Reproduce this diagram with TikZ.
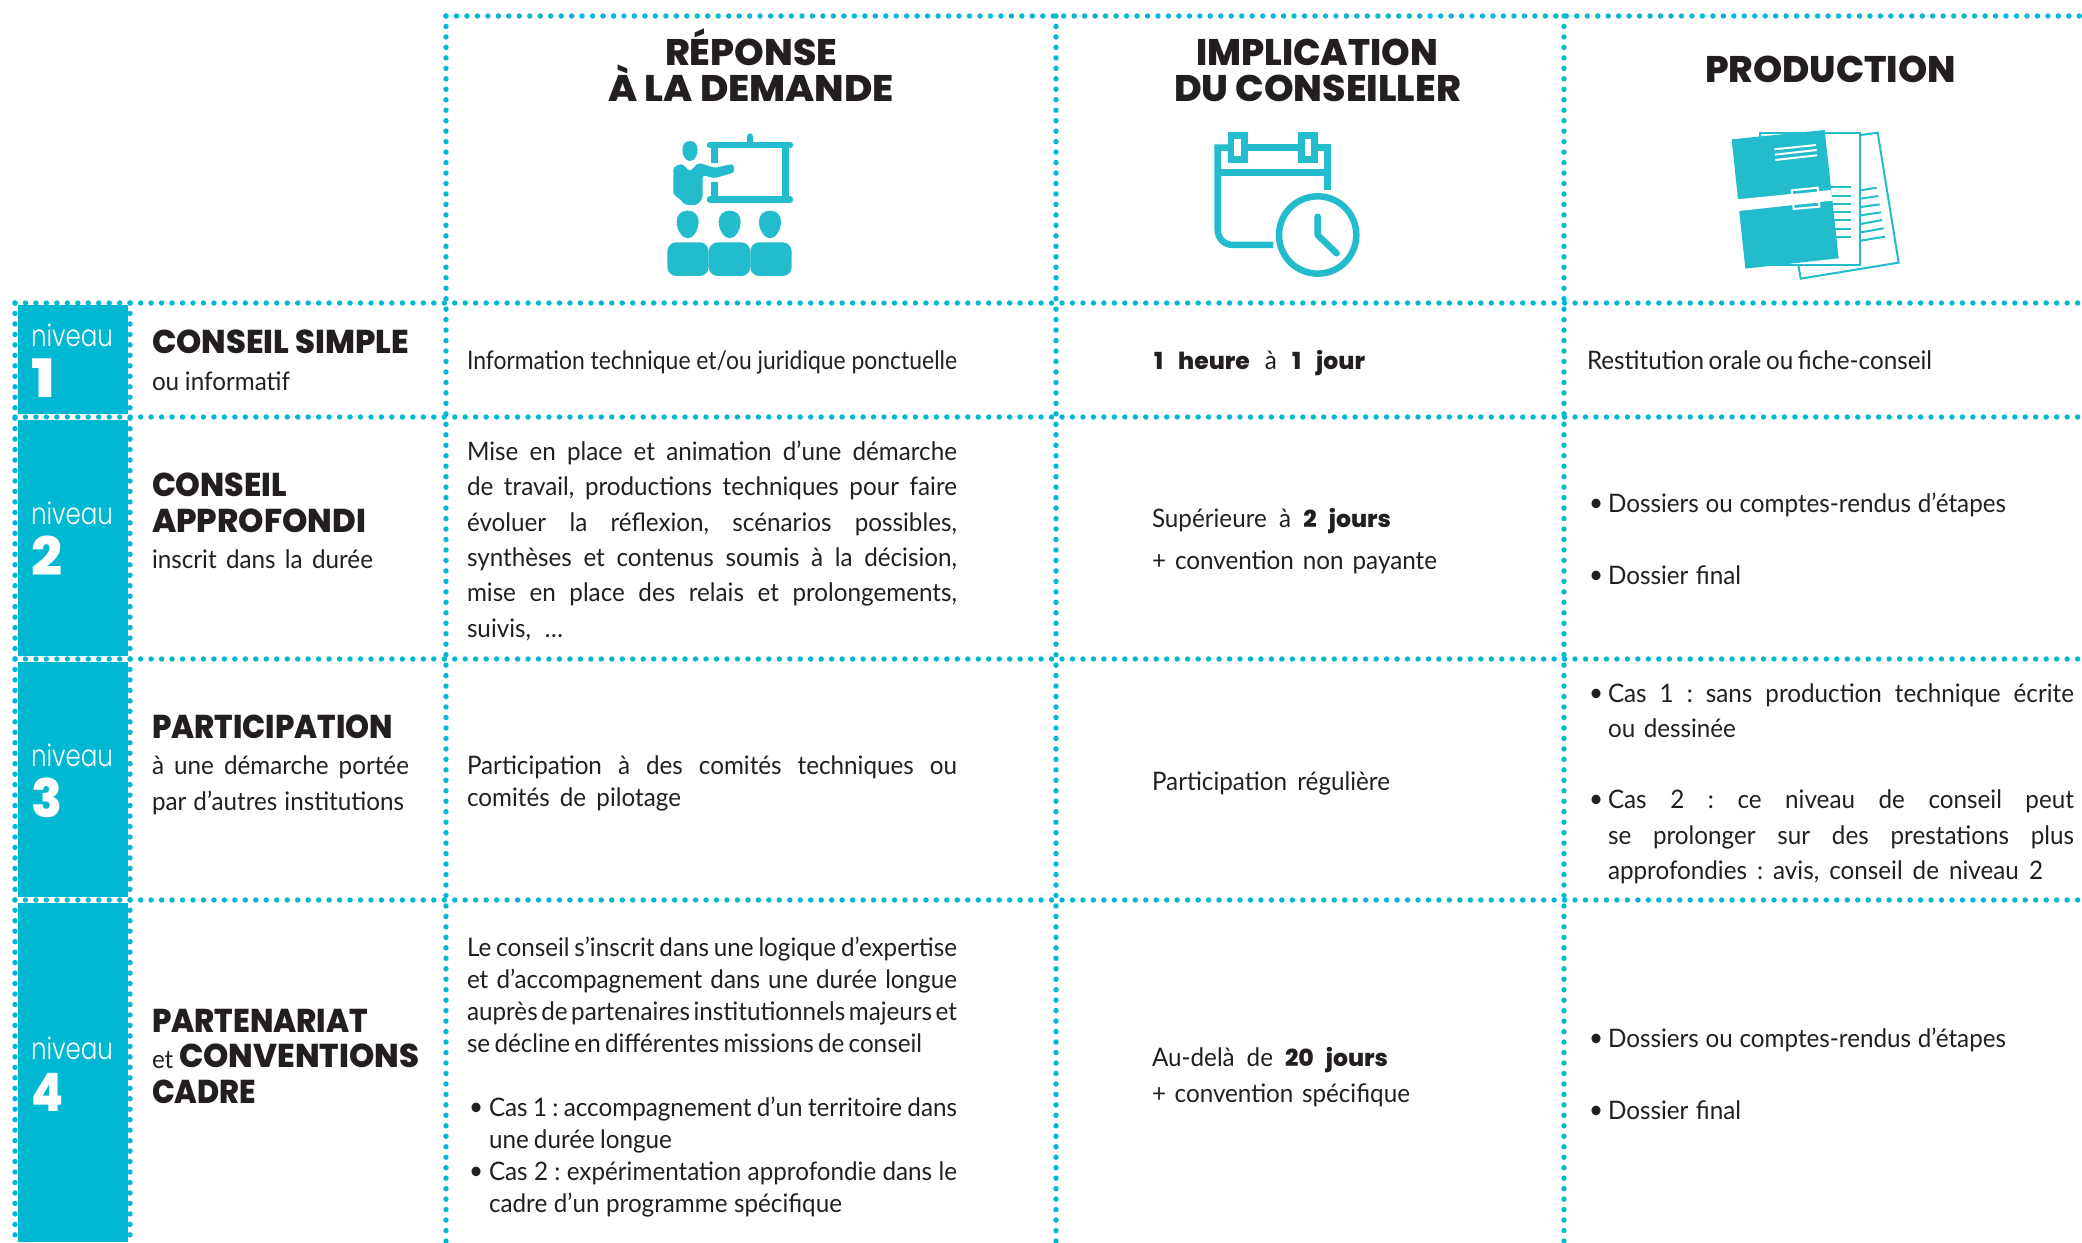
\documentclass[tikz,border=0pt]{standalone}
\usepackage{fontspec}
\usepackage{graphicx}
\newfontfamily\bdf[FakeStretch=0.95]{Lato}
\newfontfamily\hvf{Poppins ExtraBold}
\newfontfamily\nvf{Poppins Light}
\newfontfamily\hvs{Poppins ExtraBold}
\definecolor{dotc}{HTML}{00B8D4}
\definecolor{blockc}{HTML}{00B8D1}
\definecolor{iconc}{HTML}{22BCCC}
\definecolor{ink}{HTML}{231F20}
\newcommand{\bd}{\bdf\fontsize{25.5}{30}\selectfont\frenchspacing}
\newcommand{\bb}[1]{{\hvs\fontsize{23.5}{30}\selectfont #1}}
\newcommand{\jl}[2]{\lower1pt\hbox to #1pt{\spaceskip=.2em plus 1fil minus .15em\relax #2}}
\newcommand{\fit}[2]{\resizebox{#1pt}{\height}{#2}}
\newcommand{\hdg}[2]{\fit{#1}{\hvf\fontsize{33}{36}\selectfont #2}}
\newcommand{\hdh}[2]{\fit{#1}{\hvf\fontsize{37}{40}\selectfont #2}}
\newcommand{\nv}{\fit{82}{\nvf\fontsize{30}{32}\selectfont niveau}}
\newcommand{\dg}[2]{\fit{#1}{\hvf\fontsize{53}{56}\selectfont #2}}
\tikzset{
  txt/.style={anchor=base west,inner sep=0pt,outer sep=0pt,text=ink,font=\bd},
  wtx/.style={anchor=base west,inner sep=0pt,outer sep=0pt,text=white},
  dots/.style={draw=dotc,line width=5.4pt,line cap=round,dash pattern=on 0pt off 10.47pt},
  ic/.style={draw=iconc,line width=6.5pt,line cap=round,line join=round},
  icf/.style={fill=iconc},
  thin ic/.style={draw=iconc,line width=2pt},
  wl/.style={draw=white,line width=2pt}
}
\begin{document}
\begin{tikzpicture}[x=1pt,y=-1pt]
\useasboundingbox (0,0) rectangle (2082,1242);
\fill[white] (0,0) rectangle (2082,1242);
% level block
\fill[blockc] (18,305) rectangle (127.5,1242);
\foreach \yy in {417,659,900}{\fill[white] (18,\yy-3.5) rectangle (127.5,\yy+3);}
% dotted grid
\foreach \xx in {446,1056,1564}{\draw[dots] (\xx,16) -- (\xx,1242);}
\foreach \xx in {15,130}{\draw[dots] (\xx,303) -- (\xx,1242);}
\draw[dots] (446,16) -- (2082,16);
\foreach \yy in {303,417,659,900}{\draw[dots] (15,\yy) -- (2082,\yy);}
% icon 1: presenter
\begin{scope}[shift={(640,110)},x=0.3333pt,y=-0.3333pt]
\draw[ic] (210,105) -- (450,105);
\draw[ic] (210,269) -- (450,269);
\draw[ic] (330,80) -- (330,105);
\draw[ic,line cap=butt] (436,105) -- (436,269);
\draw[ic,line cap=butt] (223,105) -- (223,158);
\draw[ic,line cap=butt] (223,215) -- (223,269);
\fill[icf] (150,93) .. controls (135,93) and (127,105) .. (127,120) .. controls (127,138) and (138,153) .. (150,153) .. controls (162,153) and (173,138) .. (173,120) .. controls (173,105) and (165,93) .. (150,93) -- cycle;
\fill[icf,rounded corners=3pt] (100,172) -- (125,160) -- (150,185) -- (175,158) -- (225,174) -- (266,164) .. controls (282,162) and (286,185) .. (270,191) -- (222,205) -- (188,195) -- (188,265) -- (172,285) -- (135,285) -- (118,265) -- (100,255) -- cycle;
\foreach \cx in {143,269,390}{
\fill[icf] (\cx,302) .. controls (\cx-20,302) and (\cx-33,315) .. (\cx-33,335) .. controls (\cx-33,360) and (\cx-17,385) .. (\cx,385) .. controls (\cx+17,385) and (\cx+33,360) .. (\cx+33,335) .. controls (\cx+33,315) and (\cx+20,302) .. (\cx,302) -- cycle;}
\fill[icf,rounded corners=9pt] (82,397) rectangle (206,498);
\fill[icf,rounded corners=9pt] (206,397) rectangle (331,498);
\fill[icf,rounded corners=9pt] (331,397) rectangle (455,498);
\end{scope}
% icon 2: calendar
\begin{scope}[shift={(1190,110)},x=0.3333pt,y=-0.3333pt]
\draw[ic,line cap=butt,line join=miter,rounded corners=0pt] (114,113) -- (83,113) -- (83,358) .. controls (83,388) and (105,405) .. (130,405) -- (250,405);
\draw[ic,line cap=butt,line join=miter] (172,113) -- (325,113);
\draw[ic,line cap=butt,line join=miter] (383,113) -- (412,113) -- (412,240);
\draw[ic,line cap=butt] (83,188) -- (412,188);
\draw[ic,line join=miter] (123,77) rectangle (163,148);
\draw[ic,line join=miter] (334,77) rectangle (374,148);
\draw[ic] (383,375) circle [x radius=116,y radius=116];
\draw[ic] (383,320) -- (383,375) -- (440,430);
\end{scope}
% icon 3: documents
\begin{scope}[shift={(1700,110)},x=0.3333pt,y=-0.3333pt]
\draw[thin ic] (482,75) -- (533,68) -- (596,458) -- (302,506) -- (295,465);
\draw[thin ic] (180,70) rectangle (480,465);
\foreach \yy in {232,257,281,306,331,356,380}{\draw[thin ic] (390,\yy) -- (452,\yy);}
\draw[thin ic] (482,241) -- (530,233);
\draw[thin ic] (482,266) -- (535,258);
\draw[thin ic] (482,291) -- (539,283);
\draw[thin ic] (482,316) -- (543,307);
\draw[thin ic] (482,342) -- (547,330);
\draw[thin ic] (482,367) -- (551,355);
\draw[thin ic] (482,392) -- (555,380);
\fill[icf] (95,88) -- (374,60) -- (416,445) -- (136,476) -- cycle;
\fill[white] (113,268) -- (393,240) -- (397,272) -- (117,303) -- cycle;
\fill[icf] (275,241) -- (353,233) -- (358,290) -- (281,297) -- cycle;
\draw[wl] (275,241) -- (353,233) -- (358,290) -- (281,297) -- cycle;
\fill[white] (279,252) -- (352,245) -- (355,278) -- (282,285) -- cycle;
\draw[wl] (223,118) -- (348,105);
\draw[wl] (225,134) -- (350,120);
\draw[wl] (226,150) -- (351,136);
\end{scope}
% headers
\node[txt] (h1a) at (665,65) {\hdh{172}{RÉPONSE}};
\node[txt] (h1b) at (608,101) {\hdh{286}{À LA DEMANDE}};
\node[txt] (h2a) at (1196,65) {\hdh{242}{IMPLICATION}};
\node[txt] (h2b) at (1174,101) {\hdh{287}{DU CONSEILLER}};
\node[txt] (h3) at (1705,82) {\hdh{251}{PRODUCTION}};
% levels
\node[wtx] (n1) at (31,346) {\nv};
\node[wtx] (d1) at (31,397) {\dg{24}{1}};
\node[wtx] (n2) at (31,524) {\nv};
\node[wtx] (d2) at (31,575) {\dg{31}{2}};
\node[wtx] (n3) at (31,766) {\nv};
\node[wtx] (d3) at (31,817) {\dg{31}{3}};
\node[wtx] (n4) at (31,1059) {\nv};
\node[wtx] (d4) at (31,1111) {\dg{32}{4}};
% titles
\node[txt] (t1) at (152,353) {\hdg{257}{CONSEIL SIMPLE}};
\node[txt] (t1b) at (152,389) {\jl{138}{ou informatif}};
\node[txt] (t2) at (152,496) {\hdg{135}{CONSEIL}};
\node[txt] (t2a) at (152,532) {\hdg{214}{APPROFONDI}};
\node[txt] (t2b) at (152,567) {\jl{221}{inscrit dans la durée}};
\node[txt] (t3) at (152,738) {\hdg{241}{PARTICIPATION}};
\node[txt] (t3a) at (152,773) {\jl{257}{à une démarche portée}};
\node[txt] (t3b) at (152,809) {\jl{252}{par d’autres institutions}};
\node[txt] (t4) at (152,1032) {\hdg{216}{PARTENARIAT}};
\node[txt] (t4et) at (152,1067) {\jl{18}{et}};
\node[txt] (t4a) at (179,1067) {\hdg{240}{CONVENTIONS}};
\node[txt] (t4b) at (152,1103) {\hdg{104}{CADRE}};
% response column
\node[txt] (r1) at (467,368) {\lower1pt\hbox{\fit{490}{Information technique et/ou juridique ponctuelle}}};
\node[txt] (r2a) at (467,459) {\jl{490}{Mise en place et animation d’une démarche}};
\node[txt] (r2b) at (467,494.5) {\jl{490}{de travail, productions techniques pour faire}};
\node[txt] (r2c) at (467,530) {\jl{490}{évoluer la réflexion, scénarios possibles,}};
\node[txt] (r2d) at (467,565) {\jl{490}{synthèses et contenus soumis à la décision,}};
\node[txt] (r2e) at (467,600.5) {\jl{490}{mise en place des relais et prolongements,}};
\node[txt] (r2f) at (467,636) {\jl{96}{suivis, …}};
\node[txt] (r3a) at (467,773) {\jl{490}{Participation à des comités techniques ou}};
\node[txt] (r3b) at (467,805) {\jl{214}{comités de pilotage}};
\node[txt] (r4a) at (467,955) {\jl{490}{Le conseil s’inscrit dans une logique d’expertise}};
\node[txt] (r4b) at (467,987) {\jl{490}{et d’accompagnement dans une durée longue}};
\node[txt] (r4c) at (467,1019) {\jl{490}{auprès de partenaires institutionnels majeurs et}};
\node[txt] (r4d) at (467,1051) {\jl{455}{se décline en différentes missions de conseil}};
\node[txt] (r4e) at (469,1115) {•};
\node[txt] (r4f) at (489,1115) {\jl{468}{Cas 1 : accompagnement d’un territoire dans}};
\node[txt] (r4g) at (489,1147) {\jl{183}{une durée longue}};
\node[txt] (r4h) at (469,1179) {•};
\node[txt] (r4i) at (489,1179) {\jl{468}{Cas 2 : expérimentation approfondie dans le}};
\node[txt] (r4j) at (489,1211) {\jl{353}{cadre d’un programme spécifique}};
% involvement column
\node[txt] (i1) at (1154,368) {\jl{211}{\bb{1 heure} à \bb{1 jour}}};
\node[txt] (i2a) at (1152,526) {\jl{239}{Supérieure à \bb{2 jours}}};
\node[txt] (i2b) at (1152,568) {\jl{285}{+ convention non payante}};
\node[txt] (i3) at (1152,789) {\jl{238}{Participation régulière}};
\node[txt] (i4a) at (1152,1065) {\jl{236}{Au-delà de \bb{20 jours}}};
\node[txt] (i4b) at (1152,1101) {\jl{258}{+ convention spécifique}};
% production column
\node[txt] (p1) at (1587,368) {\jl{345}{Restitution orale ou fiche-conseil}};
\node[txt] (p2a) at (1589,511) {•};
\node[txt] (p2b) at (1608,511) {\jl{398}{Dossiers ou comptes-rendus d’étapes}};
\node[txt] (p2c) at (1589,583) {•};
\node[txt] (p2d) at (1608,583) {\jl{133}{Dossier final}};
\node[txt] (p3a) at (1589,701) {•};
\node[txt] (p3b) at (1608,701) {\jl{466}{Cas 1 : sans production technique écrite}};
\node[txt] (p3c) at (1608,736) {\jl{128}{ou dessinée}};
\node[txt] (p3d) at (1589,807) {•};
\node[txt] (p3e) at (1608,807) {\jl{466}{Cas 2 : ce niveau de conseil peut}};
\node[txt] (p3f) at (1608,843) {\jl{466}{se prolonger sur des prestations plus}};
\node[txt] (p3g) at (1608,878) {\jl{435}{approfondies : avis, conseil de niveau 2}};
\node[txt] (p4a) at (1589,1046) {•};
\node[txt] (p4b) at (1608,1046) {\jl{398}{Dossiers ou comptes-rendus d’étapes}};
\node[txt] (p4c) at (1589,1118) {•};
\node[txt] (p4d) at (1608,1118) {\jl{133}{Dossier final}};
\end{tikzpicture}
\end{document}
